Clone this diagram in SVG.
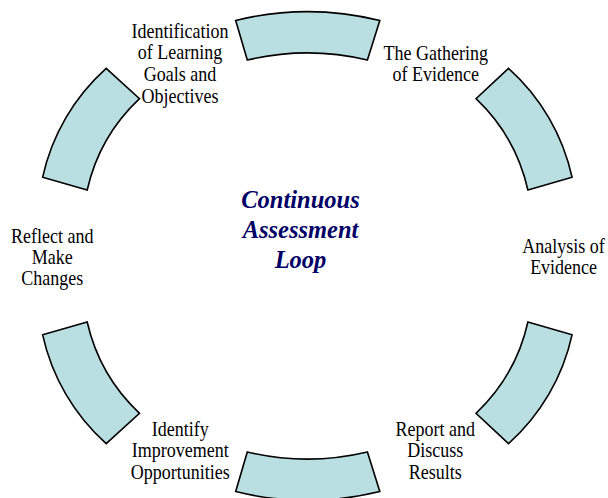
<svg xmlns="http://www.w3.org/2000/svg" width="608" height="498" viewBox="0 0 608 498">
<style>
.seg{fill:#B9DFE2;stroke:#000;stroke-width:1.6;stroke-linejoin:miter}
.lbl{font-family:"Liberation Serif","Times New Roman",serif;font-size:20px;fill:#000;text-anchor:middle}
.ttl{font-family:"Liberation Serif","Times New Roman",serif;font-size:24.5px;font-weight:bold;font-style:italic;fill:#000066;text-anchor:middle}
</style>
<rect width="608" height="498" fill="#fff"/>
<g id="connectors"></g>
<g id="seg-top"><path class="seg" d="M235.7,20.5 A300,300 0 0 1 379.8,20.5 L367.4,60 A260,260 0 0 0 247.3,60 Z"/></g>
<g id="seg-upper-right"><path class="seg" d="M508.5,68.3 A205,205 0 0 1 572.1,177.3 L527.9,190 A180,180 0 0 0 476,98.7 Z"/></g>
<g id="seg-lower-right"><path class="seg" d="M572.1,334.7 A205,205 0 0 1 508.5,443.7 L476,413.3 A180,180 0 0 0 527.9,322 Z"/></g>
<g id="seg-bottom"><path class="seg" d="M379.8,491.5 A300,300 0 0 1 235.7,491.5 L247.3,452 A260,260 0 0 0 367.4,452 Z"/></g>
<g id="seg-lower-left"><path class="seg" d="M106.2,443.7 A205,205 0 0 1 42.6,334.7 L87.2,322 A180,180 0 0 0 139.5,413.3 Z"/></g>
<g id="seg-upper-left"><path class="seg" d="M42.6,177.3 A205,205 0 0 1 106.2,68.3 L139.5,98.7 A180,180 0 0 0 87.2,190 Z"/></g>
<g id="label-goals"><text class="lbl" transform="translate(180,37.5) scale(0.9,1)"><tspan x="0" y="0">Identification</tspan><tspan x="0" y="22">of Learning</tspan><tspan x="0" y="44">Goals and</tspan><tspan x="0" y="66">Objectives</tspan></text></g>
<g id="label-gathering"><text class="lbl" transform="translate(435.7,59.5) scale(0.9,1)"><tspan x="0" y="0">The Gathering</tspan><tspan x="0" y="22">of Evidence</tspan></text></g>
<g id="label-analysis"><text class="lbl" transform="translate(563.6,252.5) scale(0.9,1)"><tspan x="0" y="0">Analysis of</tspan><tspan x="0" y="22">Evidence</tspan></text></g>
<g id="label-report"><text class="lbl" transform="translate(435.3,435.5) scale(0.9,1)"><tspan x="0" y="0">Report and</tspan><tspan x="0" y="22">Discuss</tspan><tspan x="0" y="44">Results</tspan></text></g>
<g id="label-improve"><text class="lbl" transform="translate(180.2,435.5) scale(0.9,1)"><tspan x="0" y="0">Identify</tspan><tspan x="0" y="22">Improvement</tspan><tspan x="0" y="44">Opportunities</tspan></text></g>
<g id="label-reflect"><text class="lbl" transform="translate(52.3,242.5) scale(0.9,1)"><tspan x="0" y="0">Reflect and</tspan><tspan x="0" y="21.5">Make</tspan><tspan x="0" y="43">Changes</tspan></text></g>
<g id="title"><text class="ttl"><tspan x="300.5" y="208.3">Continuous</tspan><tspan x="300.5" y="238.3">Assessment</tspan><tspan x="300.5" y="268.3">Loop</tspan></text></g>
</svg>
